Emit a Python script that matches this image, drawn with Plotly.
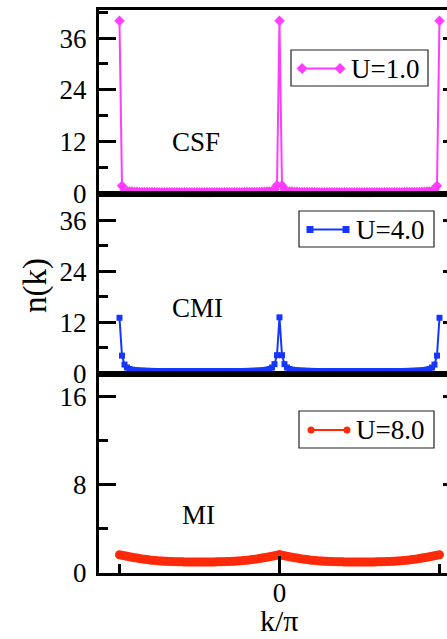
import numpy as np
import plotly.graph_objects as go

# momentum grid k/pi, step 1/64
K_OVER_PI = np.arange(-64, 65) / 64.0

# n(k) for U = 1.0 (superfluid, sharp peaks at k = -pi, 0, pi)
N_U1 = [
    40.0, 1.8, 0.9, 0.6, 0.5, 0.45, 0.42, 0.4,
    0.38, 0.37, 0.36, 0.35, 0.35, 0.34, 0.34, 0.33,
    0.33, 0.33, 0.32, 0.32, 0.32, 0.32, 0.31, 0.31,
    0.31, 0.31, 0.31, 0.3, 0.3, 0.3, 0.3, 0.3,
    0.3, 0.3, 0.3, 0.3, 0.3, 0.3, 0.31, 0.31,
    0.31, 0.31, 0.31, 0.32, 0.32, 0.32, 0.32, 0.33,
    0.33, 0.33, 0.34, 0.34, 0.35, 0.35, 0.36, 0.37,
    0.38, 0.4, 0.42, 0.45, 0.5, 0.6, 0.9, 1.9,
    40.0, 1.9, 0.9, 0.6, 0.5, 0.45, 0.42, 0.4,
    0.38, 0.37, 0.36, 0.35, 0.35, 0.34, 0.34, 0.33,
    0.33, 0.33, 0.32, 0.32, 0.32, 0.32, 0.31, 0.31,
    0.31, 0.31, 0.31, 0.3, 0.3, 0.3, 0.3, 0.3,
    0.3, 0.3, 0.3, 0.3, 0.3, 0.3, 0.31, 0.31,
    0.31, 0.31, 0.31, 0.32, 0.32, 0.32, 0.32, 0.33,
    0.33, 0.33, 0.34, 0.34, 0.35, 0.35, 0.36, 0.37,
    0.38, 0.4, 0.42, 0.45, 0.5, 0.6, 0.9, 1.8,
    40.0,
]

# n(k) for U = 4.0
N_U4 = [
    13.1, 4.2, 2.1, 1.4, 1.05, 0.9, 0.8, 0.75,
    0.7, 0.68, 0.65, 0.63, 0.62, 0.6, 0.6, 0.59,
    0.58, 0.58, 0.57, 0.57, 0.57, 0.56, 0.56, 0.56,
    0.56, 0.55, 0.55, 0.55, 0.55, 0.55, 0.55, 0.55,
    0.55, 0.55, 0.55, 0.55, 0.55, 0.55, 0.55, 0.55,
    0.56, 0.56, 0.56, 0.56, 0.57, 0.57, 0.57, 0.58,
    0.58, 0.59, 0.6, 0.6, 0.62, 0.63, 0.65, 0.68,
    0.7, 0.75, 0.8, 0.9, 1.05, 1.4, 2.2, 4.3,
    13.2, 4.3, 2.2, 1.4, 1.05, 0.9, 0.8, 0.75,
    0.7, 0.68, 0.65, 0.63, 0.62, 0.6, 0.6, 0.59,
    0.58, 0.58, 0.57, 0.57, 0.57, 0.56, 0.56, 0.56,
    0.56, 0.55, 0.55, 0.55, 0.55, 0.55, 0.55, 0.55,
    0.55, 0.55, 0.55, 0.55, 0.55, 0.55, 0.55, 0.55,
    0.56, 0.56, 0.56, 0.56, 0.57, 0.57, 0.57, 0.58,
    0.58, 0.59, 0.6, 0.6, 0.62, 0.63, 0.65, 0.68,
    0.7, 0.75, 0.8, 0.9, 1.05, 1.4, 2.1, 4.2,
    13.1,
]

# n(k) for U = 8.0 (Mott insulator, broad distribution)
N_U8 = [
    1.66, 1.61, 1.56, 1.51, 1.47, 1.43, 1.39, 1.35,
    1.31, 1.28, 1.25, 1.22, 1.19, 1.16, 1.14, 1.12,
    1.10, 1.08, 1.07, 1.06, 1.05, 1.04, 1.03, 1.02,
    1.01, 1.01, 1.00, 1.00, 0.99, 0.99, 0.99, 0.99,
    0.99, 0.99, 0.99, 0.99, 0.99, 1.00, 1.00, 1.01,
    1.01, 1.02, 1.03, 1.04, 1.05, 1.06, 1.07, 1.08,
    1.10, 1.12, 1.14, 1.16, 1.19, 1.22, 1.25, 1.28,
    1.31, 1.35, 1.39, 1.43, 1.47, 1.51, 1.56, 1.61,
    1.68, 1.61, 1.56, 1.51, 1.47, 1.43, 1.39, 1.35,
    1.31, 1.28, 1.25, 1.22, 1.19, 1.16, 1.14, 1.12,
    1.10, 1.08, 1.07, 1.06, 1.05, 1.04, 1.03, 1.02,
    1.01, 1.01, 1.00, 1.00, 0.99, 0.99, 0.99, 0.99,
    0.99, 0.99, 0.99, 0.99, 0.99, 1.00, 1.00, 1.01,
    1.01, 1.02, 1.03, 1.04, 1.05, 1.06, 1.07, 1.08,
    1.10, 1.12, 1.14, 1.16, 1.19, 1.22, 1.25, 1.28,
    1.31, 1.35, 1.39, 1.43, 1.47, 1.51, 1.56, 1.61,
    1.66,
]

SERIES_NAMES = ["U=1.0", "U=4.0", "U=8.0"]
PHASE_LABELS = ["CSF", "CMI", "MI"]
Y_TICKS = [[0, 12, 24, 36], [0, 12, 24, 36], [0, 8, 16]]
Y_MINOR = [6, 6, 4]
Y_RANGES = [[0, 42.5], [0, 42.3], [0, 18.1]]
X_RANGE = [-1.128, 1.047]

COLORS = ["#ff3cff", "#1636ff", "#ff2a0a"]
SYMBOLS = ["diamond", "square", "circle"]
MSIZES = [8, 6, 9]
LWIDTHS = [2, 2, 3]

FONT = "Liberation Serif, Times New Roman, serif"
W, H = 447, 639
ML, MR, MT, MB = 99, 0, 10, 66
PW, PH = W - ML - MR, H - MT - MB


def fx(xp):
    return (xp - ML) / PW


def fy(yp):
    return (H - MB - yp) / PH


# panel edges in pixels (top panel first)
EDGES = [(10, 193.5), (193.5, 373.5), (373.5, 573)]

fig = go.Figure()
all_y = [N_U1, N_U4, N_U8]
for i in range(3):
    n = i + 1
    xa = "x" if n == 1 else f"x{n}"
    ya = "y" if n == 1 else f"y{n}"
    fig.add_trace(go.Scatter(
        x=K_OVER_PI, y=all_y[i], mode="lines+markers",
        line=dict(color=COLORS[i], width=LWIDTHS[i]),
        marker=dict(symbol=SYMBOLS[i], size=MSIZES[i], color=COLORS[i],
                    line=dict(width=0)),
        xaxis=xa, yaxis=ya, cliponaxis=False, showlegend=False,
        name=SERIES_NAMES[i],
    ))
    # empty trace keeping the right-hand tick stubs axis alive
    fig.add_trace(go.Scatter(x=[], y=[], xaxis=xa, yaxis=f"y{n + 3}",
                             showlegend=False, hoverinfo="skip"))

layout = dict(
    width=W, height=H,
    margin=dict(l=ML, r=MR, t=MT, b=MB, pad=0),
    paper_bgcolor="white", plot_bgcolor="white",
    font=dict(family=FONT, size=27, color="black"),
    showlegend=False,
)

for i in range(3):
    n = i + 1
    top, bot = EDGES[i]
    dom = [fy(bot), fy(top)]
    xkey = "xaxis" if n == 1 else f"xaxis{n}"
    ykey = "yaxis" if n == 1 else f"yaxis{n}"
    xa = "x" if n == 1 else f"x{n}"
    ya = "y" if n == 1 else f"y{n}"
    bottom_panel = (n == 3)
    layout[xkey] = dict(
        domain=[0, 1], anchor=ya, range=X_RANGE, showgrid=False, zeroline=False,
        showline=True, mirror=True, linecolor="black", linewidth=3,
        ticks="inside" if bottom_panel else "", tickvals=[0], ticktext=["0"],
        ticklen=17, tickwidth=3, tickcolor="black",
        showticklabels=bottom_panel, tickfont=dict(size=27),
        ticklabelstandoff=-6,
        minor=dict(tickvals=[-1, 1], ticks="inside" if bottom_panel else "",
                   ticklen=9, tickwidth=3, tickcolor="black"),
        matches=None if n == 1 else "x",
    )
    layout[ykey] = dict(
        domain=dom, anchor=xa, range=Y_RANGES[i], showgrid=False, zeroline=False,
        showline=True, mirror=False, linecolor="black", linewidth=3,
        ticks="inside", tickvals=Y_TICKS[i], ticklen=17, tickwidth=3,
        tickcolor="black", tickfont=dict(size=27), ticklabelstandoff=4,
        minor=dict(dtick=Y_MINOR[i], ticks="inside", ticklen=9, tickwidth=3,
                   tickcolor="black"),
    )
    # short tick stubs along the right edge
    layout[f"yaxis{n + 3}"] = dict(
        overlaying=ya, side="right", anchor=xa, range=Y_RANGES[i],
        showgrid=False, zeroline=False, showline=False,
        ticks="inside", tickvals=Y_TICKS[i][1:], ticklen=4, tickwidth=3,
        tickcolor="black", showticklabels=False,
    )

fig.update_layout(**layout)

annotations = []
shapes = []

# phase labels
PHASE_POS = [(196, 142), (197, 308), (198, 515)]
for label, (xp, yp) in zip(PHASE_LABELS, PHASE_POS):
    annotations.append(dict(x=fx(xp), y=fy(yp), xref="paper", yref="paper",
                            text=label, showarrow=False, xanchor="center",
                            yanchor="middle", font=dict(size=27)))

# axis titles
annotations.append(dict(x=fx(35), y=fy(286), xref="paper", yref="paper",
                        text="n(k)", textangle=-90, showarrow=False,
                        xanchor="center", yanchor="middle",
                        font=dict(size=33)))
annotations.append(dict(x=fx(279), y=fy(620), xref="paper", yref="paper",
                        text="k/\u03c0", showarrow=False,
                        xanchor="center", yanchor="middle",
                        font=dict(size=30)))

# boxed legends, one per panel: line segment with a marker at each end
LEG_BOX = [(291, 50, 428, 86), (299, 211, 434, 247), (299, 411, 434, 448)]
LEG_LINE = [(302, 340, 68.5), (310, 346, 229.5), (311, 347, 430)]
LEG_TEXT_X = [349, 354, 354]


def marker_shape(sym, xc, yc, color, r):
    if sym == "diamond":
        path = (f"M {fx(xc - r)} {fy(yc)} L {fx(xc)} {fy(yc - r)} "
                f"L {fx(xc + r)} {fy(yc)} L {fx(xc)} {fy(yc + r)} Z")
        return dict(type="path", path=path, xref="paper", yref="paper",
                    fillcolor=color, line=dict(width=0))
    kind = "rect" if sym == "square" else "circle"
    return dict(type=kind, xref="paper", yref="paper",
                x0=fx(xc - r), x1=fx(xc + r), y0=fy(yc + r), y1=fy(yc - r),
                fillcolor=color, line=dict(width=0))


for i in range(3):
    x0, y0, x1, y1 = LEG_BOX[i]
    shapes.append(dict(type="rect", xref="paper", yref="paper",
                       x0=fx(x0), x1=fx(x1), y0=fy(y1), y1=fy(y0),
                       line=dict(color="#222222", width=1.2),
                       fillcolor="rgba(0,0,0,0)"))
    lx0, lx1, ly = LEG_LINE[i]
    shapes.append(dict(type="line", xref="paper", yref="paper",
                       x0=fx(lx0), x1=fx(lx1), y0=fy(ly), y1=fy(ly),
                       line=dict(color=COLORS[i], width=2)))
    r = [5.5, 3.5, 3.5][i]
    for xc in (lx0, lx1):
        shapes.append(marker_shape(SYMBOLS[i], xc, ly, COLORS[i], r))
    annotations.append(dict(x=fx(LEG_TEXT_X[i]), y=fy(ly), xref="paper",
                            yref="paper", text=SERIES_NAMES[i],
                            showarrow=False, xanchor="left", yanchor="middle",
                            font=dict(size=27)))

fig.update_layout(annotations=annotations, shapes=shapes)

fig.write_html("out.html")
